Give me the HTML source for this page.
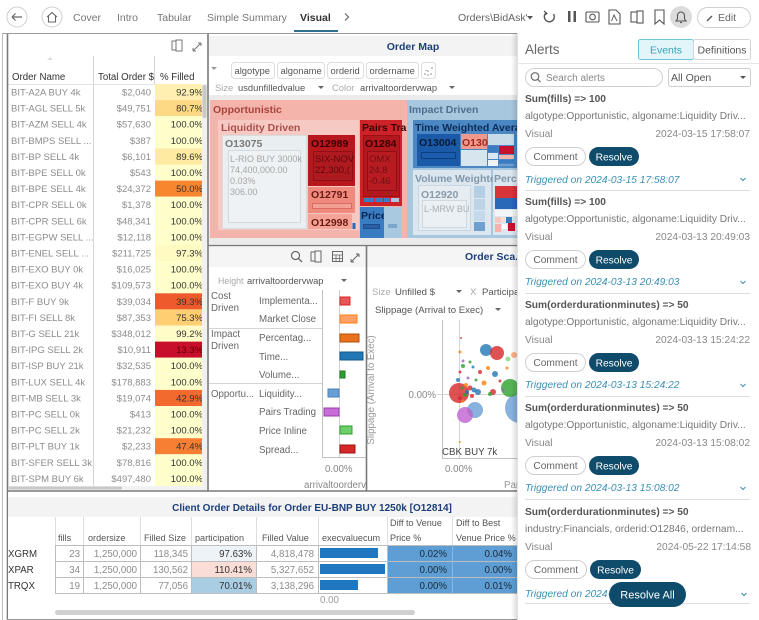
<!DOCTYPE html>
<html>
<head>
<meta charset="utf-8">
<style>
  html,body{margin:0;padding:0;background:#fff;}
  #wrap{position:relative;width:759px;height:620px;overflow:hidden;background:#fff;}
  svg text{font-family:"Liberation Sans",Arial,sans-serif;}
</style>
</head>
<body>
<div id="wrap">
<svg width="759" height="620" viewBox="0 0 759 620" xmlns="http://www.w3.org/2000/svg">
  <defs>
    <clipPath id="tmclip"><rect x="209" y="95" width="308" height="149"/></clipPath>
    <clipPath id="scclip"><rect x="367" y="247" width="150" height="243"/></clipPath>
    <clipPath id="ltclip"><rect x="8" y="84" width="199" height="404"/></clipPath>
    <linearGradient id="shadow" x1="0" x2="1" y1="0" y2="0">
      <stop offset="0" stop-color="#000" stop-opacity="0"/>
      <stop offset="1" stop-color="#000" stop-opacity="0.13"/>
    </linearGradient>
  </defs>

  <!-- ================= TOP BAR ================= -->
  <rect x="0" y="0" width="759" height="34" fill="#fff"/>
  <circle cx="17" cy="17" r="10" fill="#fff" stroke="#cfcfcf"/>
  <path d="M12 17 H22 M12 17 L15.5 13.5 M12 17 L15.5 20.5" stroke="#666" stroke-width="1.2" fill="none"/>
  <circle cx="52" cy="17" r="10" fill="#fff" stroke="#cfcfcf"/>
  <path d="M47 17 L52 12.5 L57 17 M48.5 16 V22 H55.5 V16" stroke="#666" stroke-width="1.1" fill="none"/>
  <text x="73" y="21" font-size="10.5" fill="#777">Cover</text>
  <text x="117" y="21" font-size="10.5" fill="#777">Intro</text>
  <text x="157" y="21" font-size="10.5" fill="#777">Tabular</text>
  <text x="207" y="21" font-size="10.5" fill="#777">Simple Summary</text>
  <text x="300" y="21" font-size="10.5" font-weight="bold" fill="#333">Visual</text>
  <rect x="294" y="30" width="44" height="2" fill="#2f6f8f"/>
  <path d="M345 13.5 L348.5 17 L345 20.5" stroke="#666" stroke-width="1.2" fill="none"/>

  <text x="458" y="21" font-size="10.5" fill="#666">Orders\BidAsk'</text>
  <path d="M527 16 L533 16 L530 19.5 Z" fill="#555"/>
  <path d="M546 13 A5 5 0 1 0 553.5 14" stroke="#555" stroke-width="1.4" fill="none"/>
  <path d="M544 11 L547 13.5 L544 15.5" stroke="#555" stroke-width="1.2" fill="none"/>
  <rect x="568" y="11" width="2.5" height="11" fill="#555"/>
  <rect x="573.5" y="11" width="2.5" height="11" fill="#555"/>
  <rect x="586" y="12" width="13" height="10" rx="1" fill="none" stroke="#555" stroke-width="1.1"/>
  <circle cx="592.5" cy="17" r="2.8" fill="none" stroke="#555" stroke-width="1.1"/>
  <path d="M609 10 H616 L620 14 V24 H609 Z" fill="none" stroke="#555" stroke-width="1.1"/>
  <path d="M611.5 21 L614 15 L617 21" stroke="#555" stroke-width="0.9" fill="none"/>
  <rect x="631" y="12" width="7" height="10" fill="none" stroke="#555" stroke-width="1.1"/>
  <rect x="637" y="11" width="6" height="12" fill="#fff" stroke="#555" stroke-width="1.1"/>
  <path d="M655 10 H664 V24 L659.5 20 L655 24 Z" fill="none" stroke="#555" stroke-width="1.1"/>
  <circle cx="681" cy="17" r="11" fill="#dcdcdc"/>
  <path d="M676 21 H686 L684.5 19 V15.5 A3.5 3.5 0 0 0 677.5 15.5 V19 Z" fill="none" stroke="#555" stroke-width="1.1"/>
  <path d="M680 22.5 H682" stroke="#555" stroke-width="1.2"/>
  <rect x="697.5" y="7.5" width="53" height="20" rx="10" fill="#fff" stroke="#cfcfcf"/>
  <path d="M707 21 L712 16" stroke="#555" stroke-width="1.3"/>
  <text x="718" y="21" font-size="10.5" fill="#666">Edit</text>

  <line x1="2.5" y1="33" x2="2.5" y2="620" stroke="#bdbdbd"/>
  <line x1="3" y1="33.5" x2="517" y2="33.5" stroke="#9a9a9a"/>

  <!-- ================= LEFT TABLE ================= -->
  <rect x="8" y="35" width="199" height="455" fill="#fff"/>
  <rect x="172" y="41" width="6" height="9" fill="none" stroke="#777" stroke-width="1"/>
  <rect x="176" y="40" width="6" height="11" fill="#fff" stroke="#777" stroke-width="1"/>
  <path d="M193 51 L201 43 M193 51 V48 M193 51 H196 M201 43 V46 M201 43 H198" stroke="#777" stroke-width="1" fill="none"/>
  <path d="M47 60 L50 57 L53 60 Z" fill="#ddd"/>
  <line x1="93.5" y1="56" x2="93.5" y2="490" stroke="#d5d5d5"/>
  <line x1="154.5" y1="56" x2="154.5" y2="85" stroke="#d5d5d5"/>
  <text x="12" y="80" font-size="9.7" fill="#333">Order Name</text>
  <text x="98" y="80" font-size="9.7" fill="#333">Total Order $</text>
  <text x="160" y="80" font-size="9.7" fill="#333">% Filled</text>
  <line x1="8" y1="84.5" x2="207" y2="84.5" stroke="#e2e2e2"/>

  <g clip-path="url(#ltclip)" font-size="9.5">
    <g>
      <rect x="155" y="84" width="47" height="16.1" fill="#fff0b2"/>
      <rect x="155" y="100.1" width="47" height="16.1" fill="#fdd985"/>
      <rect x="155" y="116.2" width="47" height="16.1" fill="#ffffcc"/>
      <rect x="155" y="132.3" width="47" height="16.1" fill="#ffffcc"/>
      <rect x="155" y="148.4" width="47" height="16.1" fill="#feeaa0"/>
      <rect x="155" y="164.5" width="47" height="16.1" fill="#ffffcc"/>
      <rect x="155" y="180.6" width="47" height="16.1" fill="#f8862f"/>
      <rect x="155" y="196.7" width="47" height="16.1" fill="#ffffcc"/>
      <rect x="155" y="212.8" width="47" height="16.1" fill="#ffffcc"/>
      <rect x="155" y="228.9" width="47" height="16.1" fill="#ffffcc"/>
      <rect x="155" y="245" width="47" height="16.1" fill="#fffac2"/>
      <rect x="155" y="261.1" width="47" height="16.1" fill="#ffffcc"/>
      <rect x="155" y="277.2" width="47" height="16.1" fill="#ffffcc"/>
      <rect x="155" y="293.3" width="47" height="16.1" fill="#ee5a2b"/>
      <rect x="155" y="309.4" width="47" height="16.1" fill="#fecf72"/>
      <rect x="155" y="325.5" width="47" height="16.1" fill="#fffcc8"/>
      <rect x="155" y="341.6" width="47" height="16.1" fill="#c70f2b"/>
      <rect x="155" y="357.7" width="47" height="16.1" fill="#ffffcc"/>
      <rect x="155" y="373.8" width="47" height="16.1" fill="#ffffcc"/>
      <rect x="155" y="389.9" width="47" height="16.1" fill="#f36a2f"/>
      <rect x="155" y="406" width="47" height="16.1" fill="#ffffcc"/>
      <rect x="155" y="422.1" width="47" height="16.1" fill="#ffffcc"/>
      <rect x="155" y="438.2" width="47" height="16.1" fill="#f77f33"/>
      <rect x="155" y="454.3" width="47" height="16.1" fill="#ffffcc"/>
      <rect x="155" y="470.4" width="47" height="16.1" fill="#ffffcc"/>
    </g>
    <g fill="#8c8c8c">
      <text x="11" y="95.5">BIT-A2A BUY 4k</text>
      <text x="11" y="111.6">BIT-AGL SELL 5k</text>
      <text x="11" y="127.7">BIT-AZM SELL 4k</text>
      <text x="11" y="143.8">BIT-BMPS SELL ...</text>
      <text x="11" y="159.9">BIT-BP SELL 4k</text>
      <text x="11" y="176">BIT-BPE SELL 0k</text>
      <text x="11" y="192.1">BIT-BPE SELL 4k</text>
      <text x="11" y="208.2">BIT-CPR SELL 0k</text>
      <text x="11" y="224.3">BIT-CPR SELL 6k</text>
      <text x="11" y="240.4">BIT-EGPW SELL ...</text>
      <text x="11" y="256.5">BIT-ENEL SELL ...</text>
      <text x="11" y="272.6">BIT-EXO BUY 0k</text>
      <text x="11" y="288.7">BIT-EXO BUY 4k</text>
      <text x="11" y="304.8">BIT-F BUY 9k</text>
      <text x="11" y="320.9">BIT-FI SELL 8k</text>
      <text x="11" y="337">BIT-G SELL 21k</text>
      <text x="11" y="353.1">BIT-IPG SELL 2k</text>
      <text x="11" y="369.2">BIT-ISP BUY 21k</text>
      <text x="11" y="385.3">BIT-LUX SELL 4k</text>
      <text x="11" y="401.4">BIT-MB SELL 3k</text>
      <text x="11" y="417.5">BIT-PC SELL 0k</text>
      <text x="11" y="433.6">BIT-PC SELL 2k</text>
      <text x="11" y="449.7">BIT-PLT BUY 1k</text>
      <text x="11" y="465.8">BIT-SFER SELL 3k</text>
      <text x="11" y="481.9">BIT-SPM BUY 6k</text>
    </g>
    <g fill="#8c8c8c" text-anchor="end">
      <text x="151" y="95.5">$2,040</text>
      <text x="151" y="111.6">$49,751</text>
      <text x="151" y="127.7">$57,630</text>
      <text x="151" y="143.8">$387</text>
      <text x="151" y="159.9">$6,101</text>
      <text x="151" y="176">$543</text>
      <text x="151" y="192.1">$24,372</text>
      <text x="151" y="208.2">$1,378</text>
      <text x="151" y="224.3">$48,341</text>
      <text x="151" y="240.4">$12,118</text>
      <text x="151" y="256.5">$211,725</text>
      <text x="151" y="272.6">$16,025</text>
      <text x="151" y="288.7">$109,573</text>
      <text x="151" y="304.8">$39,034</text>
      <text x="151" y="320.9">$87,353</text>
      <text x="151" y="337">$348,012</text>
      <text x="151" y="353.1">$10,911</text>
      <text x="151" y="369.2">$32,535</text>
      <text x="151" y="385.3">$178,883</text>
      <text x="151" y="401.4">$19,074</text>
      <text x="151" y="417.5">$413</text>
      <text x="151" y="433.6">$21,232</text>
      <text x="151" y="449.7">$2,233</text>
      <text x="151" y="465.8">$78,816</text>
      <text x="151" y="481.9">$497,480</text>
    </g>
    <g fill="#333" text-anchor="end">
      <text x="203" y="95.5">92.9%</text>
      <text x="203" y="111.6">80.7%</text>
      <text x="203" y="127.7">100.0%</text>
      <text x="203" y="143.8">100.0%</text>
      <text x="203" y="159.9">89.6%</text>
      <text x="203" y="176">100.0%</text>
      <text x="203" y="192.1">50.0%</text>
      <text x="203" y="208.2">100.0%</text>
      <text x="203" y="224.3">100.0%</text>
      <text x="203" y="240.4">100.0%</text>
      <text x="203" y="256.5">97.3%</text>
      <text x="203" y="272.6">100.0%</text>
      <text x="203" y="288.7">100.0%</text>
      <text x="203" y="304.8">39.3%</text>
      <text x="203" y="320.9">75.3%</text>
      <text x="203" y="337">99.2%</text>
      <text x="203" y="353.1" fill="#5a0000">13.3%</text>
      <text x="203" y="369.2">100.0%</text>
      <text x="203" y="385.3">100.0%</text>
      <text x="203" y="401.4">42.9%</text>
      <text x="203" y="417.5">100.0%</text>
      <text x="203" y="433.6">100.0%</text>
      <text x="203" y="449.7">47.4%</text>
      <text x="203" y="465.8">100.0%</text>
      <text x="203" y="481.9">100.0%</text>
    </g>
  </g>
  <rect x="202" y="84" width="5" height="404" fill="#f0f0f0"/>
  <rect x="202.5" y="85" width="4" height="33" rx="2" fill="#c8c8c8"/>
  <rect x="8" y="486" width="199" height="4" fill="#f2f2f2"/>
  <rect x="9" y="486.5" width="113" height="3" rx="1.5" fill="#c8c8c8"/>

  <!-- ================= ORDER MAP ================= -->
  <rect x="209" y="35" width="308" height="210" fill="#fff"/>
  <rect x="209" y="36" width="308" height="20" fill="#f3f3f3"/>
  <text x="413" y="50" font-size="10.5" font-weight="bold" fill="#1c3f7a" text-anchor="middle">Order Map</text>
  <path d="M211 67 L217 67 L214 70 Z" fill="#999"/>
  <g font-size="9.4" fill="#555">
    <rect x="231.5" y="62.5" width="43" height="16" rx="3" fill="#fff" stroke="#ddd"/>
    <text x="234.5" y="74">algotype</text>
    <rect x="277.5" y="62.5" width="47" height="16" rx="3" fill="#fff" stroke="#ddd"/>
    <text x="280.5" y="74">algoname</text>
    <rect x="327.5" y="62.5" width="36" height="16" rx="3" fill="#fff" stroke="#ddd"/>
    <text x="330.5" y="74">orderid</text>
    <rect x="366.5" y="62.5" width="52" height="16" rx="3" fill="#fff" stroke="#ddd"/>
    <text x="369.5" y="74">ordername</text>
    <rect x="421.5" y="62.5" width="14" height="16" rx="3" fill="#fff" stroke="#ddd"/>
    <g fill="#888"><circle cx="425" cy="74" r="0.8"/><circle cx="428" cy="71" r="0.8"/><circle cx="431" cy="74" r="0.8"/><circle cx="428" cy="75" r="0.8"/><circle cx="432" cy="68" r="0.8"/><circle cx="426" cy="70.5" r="0.6"/></g>
    <text x="215" y="91" fill="#aaa">Size</text>
    <text x="238" y="91">usdunfilledvalue</text>
    <path d="M318 86 L324 86 L321 89 Z" fill="#666"/>
    <text x="332" y="91" fill="#aaa">Color</text>
    <text x="360" y="91">arrivaltoordervwap</text>
    <path d="M449 86 L455 86 L452 89 Z" fill="#666"/>
  </g>

  <rect x="209" y="95" width="308" height="149" fill="#ebebeb"/>
  <g clip-path="url(#tmclip)" font-weight="bold" font-size="10">
    <rect x="210" y="100" width="197" height="138" fill="#f4b3ab"/>
    <text x="213" y="113" fill="#a9443d" font-size="10.5">Opportunistic</text>
    <rect x="218" y="120" width="141" height="110" fill="#f7c9c3"/>
    <text x="221" y="131" fill="#a9504a" font-size="10.5">Liquidity Driven</text>
    <rect x="222.5" y="135.5" width="84" height="93" fill="#e9eef0" stroke="#d6dde1"/>
    <text x="225" y="147" fill="#7b7b7b" font-size="10.5">O13075</text>
    <rect x="228.5" y="150.5" width="72" height="72" fill="#eef2f4" stroke="#d3dade"/>
    <g font-weight="normal" font-size="9" fill="#a5a5a5">
      <text x="230" y="162">L-RIO BUY 3000k</text>
      <text x="230" y="173">74,400,000.00</text>
      <text x="230" y="184">0.03%</text>
      <text x="230" y="195">306.00</text>
    </g>
    <rect x="308" y="135" width="47" height="51" fill="#b8171e"/>
    <text x="311" y="147" fill="#3a0000" font-size="10.5">O12989</text>
    <rect x="313.5" y="151.5" width="39" height="29" fill="#ae1a20" stroke="#8c1015"/>
    <g font-weight="normal" font-size="9.5" fill="#5a0a0a">
      <text x="315" y="162">SIX-NOV</text>
      <text x="315" y="173">22,300,(</text>
    </g>
    <rect x="308" y="187" width="47" height="26" fill="#f08a7e"/>
    <text x="311" y="198" fill="#6a1a12" font-size="10.5">O12791</text>
    <rect x="312.5" y="203.5" width="39" height="5" fill="#f2a094" stroke="#d66c60"/>
    <rect x="308" y="214" width="44" height="15" fill="#f4a396"/>
    <text x="311" y="226" fill="#6a1a12" font-size="10.5">O12998</text>
    <rect x="352.5" y="214" width="3" height="9" fill="#f6c6c0"/>
    <rect x="352.5" y="223" width="3" height="6" fill="#2a68b8"/>
    <rect x="360" y="120" width="42" height="86" fill="#cc2228"/>
    <text x="362" y="131" fill="#3a0000" font-size="10.5">Pairs Tra</text>
    <rect x="363.5" y="135.5" width="36" height="61" fill="#b3181e" stroke="#9a1016"/>
    <text x="365" y="147" fill="#3a0000" font-size="10.5">O1284</text>
    <rect x="367.5" y="151.5" width="29" height="39" fill="#b81c22" stroke="#8c1015"/>
    <g font-weight="normal" font-size="9.5" fill="#6a1010">
      <text x="369" y="162">OMX</text>
      <text x="369" y="173">24,8</text>
      <text x="369" y="184">-0.46</text>
    </g>
    <rect x="364" y="198" width="10" height="4" fill="#3d7cc4"/>
    <rect x="375" y="198" width="8" height="4" fill="#3d7cc4"/>
    <rect x="384" y="198" width="6" height="4" fill="#3d7cc4"/>
    <rect x="391" y="198" width="8" height="4" fill="#a9c9e1"/>
    <rect x="360" y="207" width="24" height="31" fill="#3a7cc2"/>
    <text x="361" y="219" fill="#0a2550" font-size="10.5">Price</text>
    <rect x="363.5" y="224.5" width="16" height="4" fill="#2a60a8" stroke="#1d4c8a"/>
    <rect x="384" y="207" width="18" height="31" fill="#a9c9e1"/>
    <rect x="388" y="224" width="9" height="4" fill="#7aa6cc"/>
    <rect x="407" y="100" width="112" height="138" fill="#a7c7df"/>
    <text x="409" y="113" fill="#4e6f8f" font-size="10.5">Impact Driven</text>
    <rect x="413" y="120" width="106" height="48" fill="#4a87c3"/>
    <text x="415" y="131" fill="#0c2b57" font-size="10.5">Time Weighted Avera</text>
    <rect x="417" y="134" width="43" height="32" fill="#1a5aa8"/>
    <text x="419" y="146" fill="#061a3a" font-size="10.5">O13004</text>
    <rect x="421.5" y="152.5" width="34" height="6" fill="#1c5cac" stroke="#0d3f80"/>
    <rect x="461" y="134" width="26" height="15" fill="#f0998c"/>
    <text x="462" y="146" fill="#a02a20" font-size="10.5">O130</text>
    <rect x="488" y="134" width="26" height="11" fill="#c7dbe9"/>
    <rect x="461" y="150" width="26" height="16" fill="#d7e5ef"/>
    <rect x="488" y="146" width="10" height="6" fill="#3a7cc2"/>
    <rect x="499" y="146" width="15" height="8" fill="#c8102a"/>
    <rect x="488" y="153" width="10" height="6" fill="#dbe7f0"/>
    <rect x="499" y="155" width="15" height="4" fill="#f4b3ab"/>
    <rect x="488" y="160" width="10" height="6" fill="#eef3f7"/>
    <rect x="499" y="160" width="15" height="3" fill="#3a7cc2"/>
    <rect x="499" y="164" width="15" height="2" fill="#6fa0d0"/>
    <rect x="413" y="170" width="78" height="65" fill="#dbe6ef"/>
    <text x="415" y="182" fill="#8097aa" font-size="10.5">Volume Weighte</text>
    <rect x="418.5" y="185.5" width="52" height="45" fill="#e6edf2" stroke="#cad7e1"/>
    <text x="421" y="198" fill="#8a9aa8" font-size="10.5">O12920</text>
    <rect x="422.5" y="200.5" width="44" height="27" fill="#eaf0f4" stroke="#cdd8e0"/>
    <text x="424" y="212" fill="#a8b0b8" font-weight="normal" font-size="9">L-MRW BU</text>
    <rect x="474" y="186" width="11" height="12" fill="#b4cfe4"/>
    <rect x="474" y="199" width="11" height="11" fill="#bcd4e6"/>
    <rect x="474" y="211" width="11" height="10" fill="#c4d9e9"/>
    <rect x="474" y="222" width="11" height="9" fill="#6fa0d0"/>
    <rect x="493" y="170" width="26" height="65" fill="#dbe6ef"/>
    <text x="494" y="182" fill="#8097aa" font-size="10.5">Perce</text>
    <rect x="495" y="186" width="24" height="12" fill="#d8343a"/>
    <rect x="495" y="198" width="24" height="11" fill="#2a68b8"/>
    <rect x="495" y="210" width="24" height="6" fill="#f3f6f9"/>
    <rect x="495" y="217" width="6" height="6" fill="#f6c6c0"/>
    <rect x="501" y="217" width="5" height="5" fill="#f9dcd5"/>
    <rect x="506" y="217" width="6" height="6" fill="#3a7cc2"/>
    <rect x="495" y="224" width="6" height="8" fill="#f4b3ab"/>
    <rect x="502" y="224" width="5" height="5" fill="#fff"/>
    <rect x="508" y="223" width="7" height="8" fill="#c8102a"/>
  </g>

  <!-- ================= BAR CHART PANEL ================= -->
  <rect x="209" y="246" width="157" height="244" fill="#fff"/>
  <rect x="209" y="247" width="157" height="20" fill="#f5f5f5"/>
  <circle cx="295.5" cy="255.5" r="4" fill="none" stroke="#666" stroke-width="1.2"/>
  <path d="M298.5 258.5 L302 262" stroke="#666" stroke-width="1.3"/>
  <rect x="311" y="252" width="6" height="9" fill="none" stroke="#666"/>
  <rect x="315" y="251" width="6" height="11" fill="#f5f5f5" stroke="#666"/>
  <rect x="332.5" y="251.5" width="10" height="10" fill="none" stroke="#666"/>
  <path d="M332.5 255 H342.5 M332.5 258.5 H342.5 M336 255 V261.5 M339.5 255 V261.5" stroke="#666" stroke-width="0.8"/>
  <path d="M351 262 L359 254 M351 262 V259 M351 262 H354 M359 254 V257 M359 254 H356" stroke="#666" stroke-width="1" fill="none"/>

  <text x="218" y="284" font-size="8.8" fill="#aaa">Height</text>
  <text x="247" y="284" font-size="9.3" fill="#555">arrivaltoordervwap</text>
  <path d="M341 279 L347 279 L344 282 Z" fill="#666"/>

  <g font-size="9.7" fill="#666">
    <text x="211" y="299">Cost</text>
    <text x="211" y="311">Driven</text>
    <text x="211" y="337">Impact</text>
    <text x="211" y="349">Driven</text>
    <text x="211" y="397">Opportu...</text>
    <text x="259" y="304">Implementa...</text>
    <text x="259" y="322">Market Close</text>
    <text x="259" y="341">Percentag...</text>
    <text x="259" y="360">Time...</text>
    <text x="259" y="378">Volume...</text>
    <text x="259" y="397">Liquidity...</text>
    <text x="259" y="415">Pairs Trading</text>
    <text x="259" y="434">Price Inline</text>
    <text x="259" y="453">Spread...</text>
  </g>
  <line x1="209" y1="328.5" x2="322" y2="328.5" stroke="#d5d5d5"/>
  <line x1="209" y1="383.5" x2="322" y2="383.5" stroke="#d5d5d5"/>
  <line x1="322.5" y1="290" x2="322.5" y2="458" stroke="#c0c0c0"/>
  <line x1="339.5" y1="290" x2="339.5" y2="458" stroke="#d0d0d0"/>
  <line x1="322" y1="457.5" x2="366" y2="457.5" stroke="#c0c0c0"/>
  <rect x="340" y="297" width="10" height="8" fill="#e8565a" stroke="#d62728"/>
  <rect x="340" y="315" width="17" height="8" fill="#ffa066" stroke="#ff7f0e"/>
  <rect x="340" y="334" width="19" height="8" fill="#e8701e" stroke="#b5500a"/>
  <rect x="340" y="352" width="23" height="8" fill="#1f77b4" stroke="#155a8a"/>
  <rect x="340" y="371" width="5" height="7" fill="#2ca02c" stroke="#1e7a1e"/>
  <rect x="328" y="389" width="11" height="8" fill="#6a9fd4" stroke="#4a80b8"/>
  <rect x="324" y="408" width="15" height="8" fill="#c86dd7" stroke="#9a40a8"/>
  <rect x="340" y="426" width="12" height="8" fill="#6ccf6c" stroke="#2ca02c"/>
  <rect x="340" y="445" width="15" height="8" fill="#d62728" stroke="#a01010"/>
  <text x="325" y="472" font-size="9.7" fill="#888">0.00%</text>
  <text x="304" y="488" font-size="9.7" fill="#888">arrivaltoorderv</text>

  <!-- ================= SCATTER PANEL ================= -->
  <rect x="367" y="246" width="150" height="244" fill="#fff"/>
  <rect x="367" y="247" width="150" height="20" fill="#f5f5f5"/>
  <text x="465" y="260" font-size="10.5" font-weight="bold" fill="#1c3f7a">Order Sca...</text>
  <g font-size="9.6">
    <text x="372" y="295" fill="#aaa">Size</text>
    <text x="395" y="295" fill="#555">Unfilled $</text>
    <path d="M456 290 L462 290 L459 293 Z" fill="#666"/>
    <text x="470" y="295" fill="#aaa">X</text>
    <text x="482" y="295" fill="#555">Participa</text>
    <text x="375" y="313" fill="#555">Slippage (Arrival to Exec)</text>
    <path d="M495 308 L501 308 L498 311 Z" fill="#666"/>
  </g>
  <text transform="translate(374,390) rotate(-90)" font-size="9.7" fill="#999" text-anchor="middle">Slippage (Arrival to Exec)</text>
  <g clip-path="url(#scclip)">
    <line x1="442.5" y1="320" x2="442.5" y2="458" stroke="#c0c0c0"/>
    <line x1="442" y1="458.5" x2="517" y2="458.5" stroke="#c0c0c0"/>
    <line x1="459.5" y1="320" x2="459.5" y2="458" stroke="#d5d5d5"/>
    <line x1="437" y1="394.5" x2="517" y2="394.5" stroke="#d5d5d5"/>
    <g fill-opacity="0.8">
      <circle cx="520" cy="408" r="15" fill="#6a9fd4"/>
      <circle cx="510" cy="388" r="9" fill="#2ca02c"/>
      <circle cx="475" cy="410" r="8" fill="#6a9fd4"/>
      <circle cx="465" cy="415" r="8" fill="#c060d0"/>
      <circle cx="459" cy="393" r="10" fill="#d62728"/>
      <circle cx="486" cy="350" r="6" fill="#1f77b4"/>
      <circle cx="497" cy="353" r="7" fill="#d62728"/>
      <circle cx="514" cy="355" r="3" fill="#ff9f6a"/>
      <circle cx="508" cy="359" r="2.5" fill="#8cd17d"/>
      <circle cx="495" cy="374" r="3" fill="#1f77b4"/>
      <circle cx="484" cy="383" r="2.5" fill="#ff7f0e"/>
      <circle cx="493" cy="392" r="3" fill="#d62728"/>
      <circle cx="460" cy="372" r="1.5" fill="#d62728"/>
      <circle cx="463" cy="366" r="2" fill="#2ca02c"/>
      <circle cx="458" cy="380" r="2" fill="#1f77b4"/>
      <circle cx="466" cy="385" r="2" fill="#ff7f0e"/>
      <circle cx="470" cy="388" r="2.5" fill="#d62728"/>
      <circle cx="474" cy="390" r="2.5" fill="#1f77b4"/>
      <circle cx="468" cy="378" r="1.5" fill="#9467bd"/>
      <circle cx="462" cy="388" r="1.5" fill="#2ca02c"/>
      <circle cx="478" cy="392" r="3" fill="#1f77b4"/>
      <circle cx="472" cy="396" r="2" fill="#d62728"/>
      <circle cx="480" cy="372" r="2" fill="#d62728"/>
      <circle cx="488" cy="368" r="2" fill="#ff7f0e"/>
      <circle cx="500" cy="381" r="1.5" fill="#d62728"/>
      <circle cx="465" cy="395" r="2" fill="#2ca02c"/>
      <circle cx="460" cy="398" r="2" fill="#d62728"/>
      <circle cx="476" cy="380" r="1.5" fill="#2ca02c"/>
      <circle cx="463" cy="361" r="1.5" fill="#9467bd"/>
      <circle cx="461" cy="338" r="1" fill="#d62728"/>
      <circle cx="460" cy="352" r="1.5" fill="#ff7f0e"/>
      <circle cx="503" cy="390" r="1.5" fill="#9467bd"/>
      <circle cx="507" cy="368" r="1.5" fill="#ff7f0e"/>
      <circle cx="460" cy="442" r="1" fill="#ff7f0e"/>
      <circle cx="470" cy="362" r="1.5" fill="#2ca02c"/>
      <circle cx="490" cy="394" r="2" fill="#2ca02c"/>
      <circle cx="473" cy="367" r="1.5" fill="#1f77b4"/>
      <circle cx="467" cy="392" r="2" fill="#1f77b4"/>
      <circle cx="463" cy="401" r="1.5" fill="#ff7f0e"/>
    </g>
    <text x="442" y="455" font-size="9.7" fill="#444">CBK BUY 7k</text>
  </g>
  <text x="436" y="398" font-size="9.7" fill="#888" text-anchor="end">0.00%</text>
  <text x="445" y="472" font-size="9.7" fill="#888">0.00%</text>
  <text x="504" y="488" font-size="9.7" fill="#999">Par</text>

  <!-- ================= PANEL BORDERS ================= -->
  <g fill="none" stroke="#7a7a7a" stroke-width="1.6">
    <line x1="7.5" y1="34" x2="7.5" y2="491"/>
    <line x1="208" y1="34" x2="208" y2="491"/>
    <line x1="208" y1="245.5" x2="517" y2="245.5"/>
    <line x1="366.5" y1="245" x2="366.5" y2="491"/>
    <line x1="7" y1="491" x2="517" y2="491"/>
    <line x1="7.5" y1="491" x2="7.5" y2="620"/>
  </g>

  <!-- ================= BOTTOM TABLE ================= -->
  <rect x="8" y="492" width="509" height="127" fill="#fff"/>
  <rect x="8" y="497" width="509" height="20" fill="#f3f3f3"/>
  <text x="312" y="511" font-size="10" font-weight="bold" fill="#1c3f7a" text-anchor="middle">Client Order Details for Order EU-BNP BUY 1250k [O12814]</text>
  <g stroke="#dedede">
    <line x1="55.5" y1="517" x2="55.5" y2="545"/>
    <line x1="83.5" y1="517" x2="83.5" y2="545"/>
    <line x1="140.5" y1="517" x2="140.5" y2="545"/>
    <line x1="191.5" y1="517" x2="191.5" y2="545"/>
    <line x1="256.5" y1="517" x2="256.5" y2="545"/>
    <line x1="318.5" y1="517" x2="318.5" y2="545"/>
    <line x1="387.5" y1="517" x2="387.5" y2="545"/>
    <line x1="452.5" y1="517" x2="452.5" y2="545"/>
  </g>
  <g font-size="9.1" fill="#555">
    <text x="58" y="541">fills</text>
    <text x="88" y="541">ordersize</text>
    <text x="144" y="541">Filled Size</text>
    <text x="195" y="541">participation</text>
    <text x="262" y="541">Filled Value</text>
    <text x="322" y="541">execvaluecum</text>
    <text x="390" y="526">Diff to Venue</text>
    <text x="390" y="541">Price %</text>
    <text x="456" y="526">Diff to Best</text>
    <text x="456" y="541">Venue Price %</text>
  </g>
  <rect x="191" y="545" width="65" height="16" fill="#eef3f7"/>
  <rect x="191" y="561" width="65" height="16" fill="#f9ddd6"/>
  <rect x="191" y="577" width="65" height="16" fill="#a9cde2"/>
  <rect x="388" y="545" width="129" height="48" fill="#5e9ed4"/>
  <rect x="320" y="548" width="58" height="10" fill="#1f77c0"/>
  <rect x="320" y="564" width="65" height="10" fill="#1f77c0"/>
  <rect x="320" y="580" width="38" height="10" fill="#1f77c0"/>
  <g stroke="#bdbdbd" fill="none">
    <line x1="55" y1="545.5" x2="517" y2="545.5"/>
    <line x1="55" y1="561.5" x2="517" y2="561.5"/>
    <line x1="55" y1="577.5" x2="517" y2="577.5"/>
    <line x1="55" y1="593.5" x2="517" y2="593.5"/>
    <line x1="55.5" y1="545" x2="55.5" y2="594"/>
    <line x1="83.5" y1="545" x2="83.5" y2="594"/>
    <line x1="140.5" y1="545" x2="140.5" y2="594"/>
    <line x1="191.5" y1="545" x2="191.5" y2="594"/>
    <line x1="256.5" y1="545" x2="256.5" y2="594"/>
    <line x1="318.5" y1="545" x2="318.5" y2="594"/>
    <line x1="387.5" y1="545" x2="387.5" y2="594"/>
    <line x1="452.5" y1="545" x2="452.5" y2="594" stroke="#8ab8de"/>
  </g>
  <g font-size="9.7">
    <text x="8" y="557" fill="#333">XGRM</text>
    <text x="8" y="573" fill="#333">XPAR</text>
    <text x="8" y="589" fill="#333">TRQX</text>
    <g text-anchor="end" fill="#8c8c8c">
      <text x="80" y="557">23</text>
      <text x="80" y="573">34</text>
      <text x="80" y="589">19</text>
      <text x="137" y="557">1,250,000</text>
      <text x="137" y="573">1,250,000</text>
      <text x="137" y="589">1,250,000</text>
      <text x="188" y="557">118,345</text>
      <text x="188" y="573">130,562</text>
      <text x="188" y="589">77,056</text>
      <text x="314" y="557">4,818,478</text>
      <text x="314" y="573">5,327,652</text>
      <text x="314" y="589">3,138,296</text>
    </g>
    <g text-anchor="end" fill="#333">
      <text x="252" y="557">97.63%</text>
      <text x="252" y="573">110.41%</text>
      <text x="252" y="589">70.01%</text>
    </g>
    <g text-anchor="end" fill="#1a2a3a">
      <text x="447" y="557">0.02%</text>
      <text x="447" y="573">0.00%</text>
      <text x="447" y="589">0.00%</text>
      <text x="512" y="557">0.04%</text>
      <text x="512" y="573">0.00%</text>
      <text x="512" y="589">0.01%</text>
    </g>
    <text x="320" y="603" fill="#999">0.00</text>
  </g>
  <rect x="55" y="610" width="360" height="5" rx="2.5" fill="#d0d0d0"/>
  <line x1="7" y1="619.5" x2="517" y2="619.5" stroke="#9a9a9a"/>

  <!-- ================= ALERTS PANEL ================= -->
  <rect x="511" y="33" width="6" height="587" fill="url(#shadow)"/>
  <rect x="517" y="33" width="242" height="587" fill="#fff"/>
  <line x1="517.5" y1="33" x2="517.5" y2="620" stroke="#e0e0e0"/>
  <text x="525" y="54" font-size="13.5" fill="#666">Alerts</text>
  <rect x="638.5" y="39.5" width="55" height="20" rx="2" fill="#e2f5f8" stroke="#6cc6d6"/>
  <text x="666" y="53.5" font-size="10.5" fill="#3aa0b8" text-anchor="middle">Events</text>
  <rect x="693.5" y="39.5" width="57" height="20" rx="2" fill="#fff" stroke="#d5d5d5"/>
  <text x="722" y="53.5" font-size="10.5" fill="#555" text-anchor="middle">Definitions</text>
  <line x1="517" y1="63.5" x2="759" y2="63.5" stroke="#e6e6e6"/>
  <rect x="525.5" y="68.5" width="137" height="18" rx="9" fill="#fff" stroke="#cfcfcf"/>
  <circle cx="535" cy="76.5" r="3.8" fill="none" stroke="#666" stroke-width="1.1"/>
  <path d="M537.8 79.3 L540.5 82" stroke="#666" stroke-width="1.2"/>
  <text x="546" y="81" font-size="10" fill="#888">Search alerts</text>
  <rect x="668.5" y="68.5" width="82" height="18" rx="2" fill="#fff" stroke="#cfcfcf"/>
  <text x="671" y="81" font-size="10.5" fill="#555">All Open</text>
  <path d="M740 76 L746 76 L743 79 Z" fill="#555"/>

  <g font-size="10.2">
    <text x="525" y="102" font-weight="bold" fill="#555">Sum(fills) =&gt; 100</text>
    <text x="525" y="119" fill="#777">algotype:Opportunistic, algoname:Liquidity Driv...</text>
    <text x="525" y="137" fill="#888">Visual</text>
    <text x="750" y="137" fill="#888" text-anchor="end">2024-03-15 17:58:07</text>
    <rect x="525.5" y="147.5" width="60" height="18" rx="9" fill="#fff" stroke="#cfcfcf"/>
    <text x="555.5" y="160" fill="#666" text-anchor="middle">Comment</text>
    <rect x="589" y="147" width="50" height="19" rx="9.5" fill="#0f4c6b"/>
    <text x="614" y="160.5" fill="#fff" text-anchor="middle">Resolve</text>
    <text x="525" y="183" fill="#3a8fb5" font-style="italic">Triggered on 2024-03-15 17:58:07</text>
    <path d="M740.5 178 L743 180.5 L745.5 178" stroke="#3a8fb5" stroke-width="1" fill="none"/>
    <line x1="525" y1="190.5" x2="750" y2="190.5" stroke="#dedede"/>

    <text x="525" y="205" font-weight="bold" fill="#555">Sum(fills) =&gt; 100</text>
    <text x="525" y="222" fill="#777">algotype:Opportunistic, algoname:Liquidity Driv...</text>
    <text x="525" y="240" fill="#888">Visual</text>
    <text x="750" y="240" fill="#888" text-anchor="end">2024-03-13 20:49:03</text>
    <rect x="525.5" y="250.5" width="60" height="18" rx="9" fill="#fff" stroke="#cfcfcf"/>
    <text x="555.5" y="263" fill="#666" text-anchor="middle">Comment</text>
    <rect x="589" y="250" width="50" height="19" rx="9.5" fill="#0f4c6b"/>
    <text x="614" y="263.5" fill="#fff" text-anchor="middle">Resolve</text>
    <text x="525" y="285" fill="#3a8fb5" font-style="italic">Triggered on 2024-03-13 20:49:03</text>
    <path d="M740.5 281 L743 283.5 L745.5 281" stroke="#3a8fb5" stroke-width="1" fill="none"/>
    <line x1="525" y1="293.5" x2="750" y2="293.5" stroke="#dedede"/>

    <text x="525" y="308" font-weight="bold" fill="#555">Sum(orderdurationminutes) =&gt; 50</text>
    <text x="525" y="325" fill="#777">algotype:Opportunistic, algoname:Liquidity Driv...</text>
    <text x="525" y="343" fill="#888">Visual</text>
    <text x="750" y="343" fill="#888" text-anchor="end">2024-03-13 15:24:22</text>
    <rect x="525.5" y="353.5" width="60" height="18" rx="9" fill="#fff" stroke="#cfcfcf"/>
    <text x="555.5" y="366" fill="#666" text-anchor="middle">Comment</text>
    <rect x="589" y="353" width="50" height="19" rx="9.5" fill="#0f4c6b"/>
    <text x="614" y="366.5" fill="#fff" text-anchor="middle">Resolve</text>
    <text x="525" y="388" fill="#3a8fb5" font-style="italic">Triggered on 2024-03-13 15:24:22</text>
    <path d="M740.5 384 L743 386.5 L745.5 384" stroke="#3a8fb5" stroke-width="1" fill="none"/>
    <line x1="525" y1="396.5" x2="750" y2="396.5" stroke="#dedede"/>

    <text x="525" y="411" font-weight="bold" fill="#555">Sum(orderdurationminutes) =&gt; 50</text>
    <text x="525" y="428" fill="#777">algotype:Opportunistic, algoname:Liquidity Driv...</text>
    <text x="525" y="446" fill="#888">Visual</text>
    <text x="750" y="446" fill="#888" text-anchor="end">2024-03-13 15:08:02</text>
    <rect x="525.5" y="456.5" width="60" height="18" rx="9" fill="#fff" stroke="#cfcfcf"/>
    <text x="555.5" y="469" fill="#666" text-anchor="middle">Comment</text>
    <rect x="589" y="456" width="50" height="19" rx="9.5" fill="#0f4c6b"/>
    <text x="614" y="469.5" fill="#fff" text-anchor="middle">Resolve</text>
    <text x="525" y="491" fill="#3a8fb5" font-style="italic">Triggered on 2024-03-13 15:08:02</text>
    <path d="M740.5 487 L743 489.5 L745.5 487" stroke="#3a8fb5" stroke-width="1" fill="none"/>
    <line x1="525" y1="499.5" x2="750" y2="499.5" stroke="#dedede"/>

    <text x="525" y="515" font-weight="bold" fill="#555">Sum(orderdurationminutes) =&gt; 50</text>
    <text x="525" y="532" fill="#777">industry:Financials, orderid:O12846, ordernam...</text>
    <text x="525" y="550" fill="#888">Visual</text>
    <text x="751" y="550" fill="#888" text-anchor="end">2024-05-22 17:14:58</text>
    <rect x="525.5" y="560.5" width="61" height="18" rx="9" fill="#fff" stroke="#cfcfcf"/>
    <text x="556" y="573" fill="#666" text-anchor="middle">Comment</text>
    <rect x="590" y="560" width="51" height="19" rx="9.5" fill="#0f4c6b"/>
    <text x="615.5" y="573.5" fill="#fff" text-anchor="middle">Resolve</text>
    <text x="525" y="597" fill="#3a8fb5" font-style="italic">Triggered on 2024-05-22 17:14:58</text>
    <path d="M741.5 593 L744 595.5 L746.5 593" stroke="#3a8fb5" stroke-width="1" fill="none"/>
    <line x1="525" y1="603.5" x2="750" y2="603.5" stroke="#dedede"/>
  </g>
  <rect x="609" y="582" width="77" height="25" rx="12.5" fill="#0f4c6b"/>
  <text x="647.5" y="598.5" font-size="11" fill="#fff" text-anchor="middle">Resolve All</text>
</svg>
</div>
</body>
</html>
